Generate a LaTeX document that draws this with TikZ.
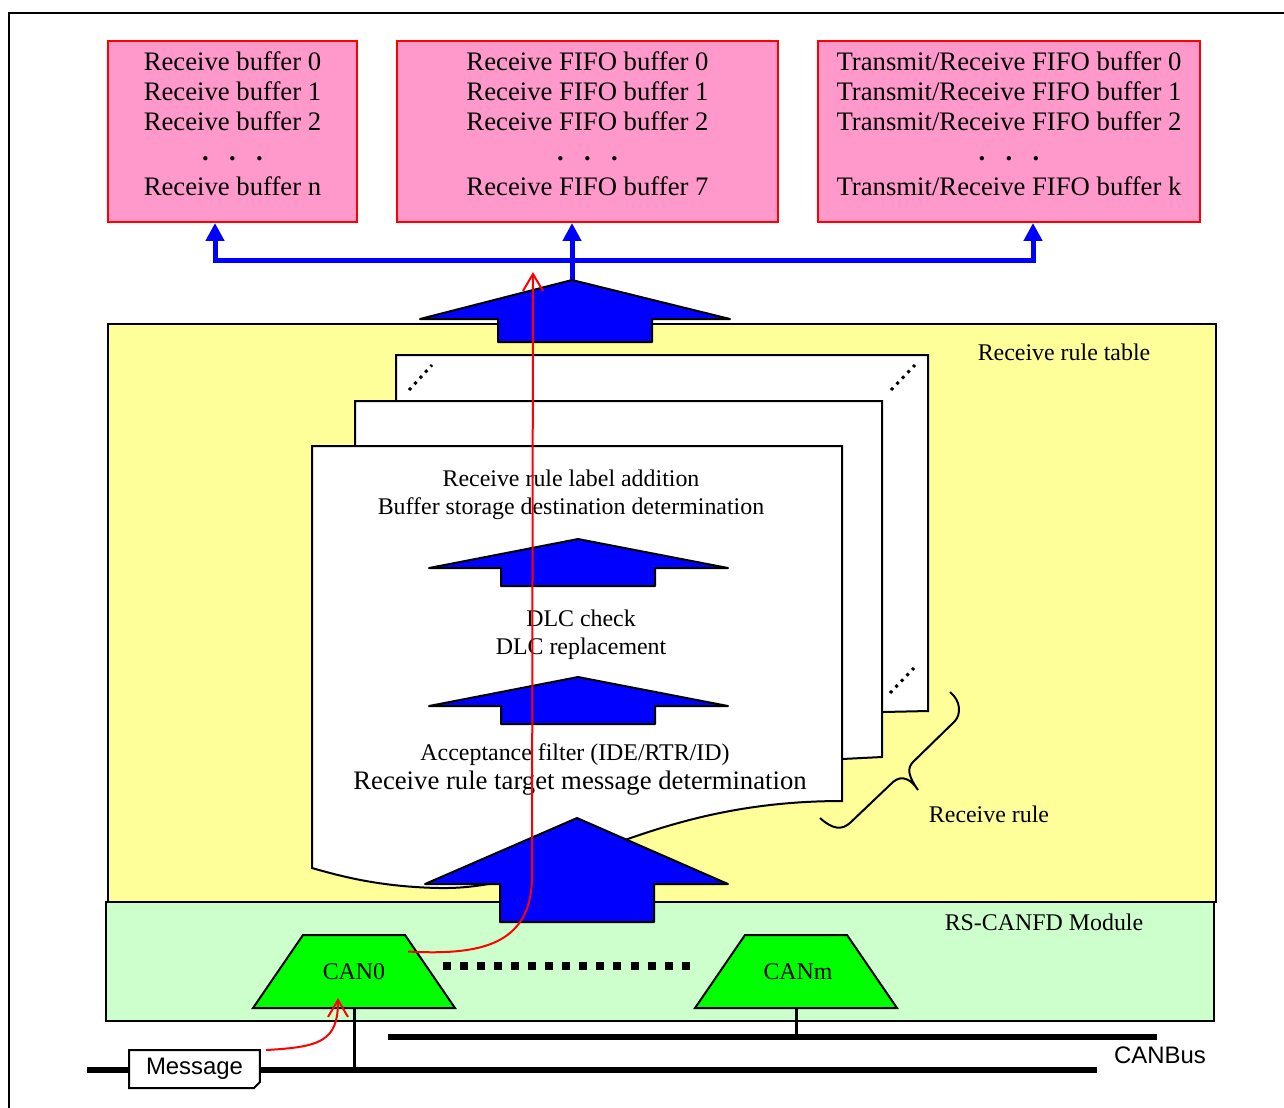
\documentclass[tikz,border=0pt]{standalone}
\usepackage{fontspec}
\setmainfont{Liberation Serif}
\setsansfont{Liberation Sans}
\usetikzlibrary{arrows.meta,shapes.geometric,shapes.misc,positioning,calc}
\definecolor{bufpink}{HTML}{FF99CC}
\definecolor{tableyellow}{HTML}{FFFF99}
\definecolor{modulegreen}{HTML}{CCFFCC}
\definecolor{cangreen}{HTML}{00FF00}
\newcommand{\bufsize}{\fontsize{15.2}{17.1}\selectfont}
\newcommand{\rulesize}{\fontsize{13.6}{15.9}\selectfont}
\newcommand{\bufdots}{{\bfseries .\hspace{11.6pt}.\hspace{11.6pt}.}}
\tikzset{frame/.style={
            draw,
            line width=0.04cm
        },
        bufbox/.style={
            draw=red,
            fill=bufpink,
            line width=0.04cm,
            minimum height=3.62cm
        },
        buftext/.style={
            align=center,
            inner sep=0pt,
            font=\bufsize
        },
        ruletext/.style={
            align=center,
            inner sep=0pt,
            font=\rulesize
        },
        busline/.style={
            draw=blue,
            line width=0.1cm
        },
        flowarrow/.style={
            draw=black,
            fill=blue,
            line width=0.04cm,
            line join=round
        },
        tablebox/.style={
            draw,
            fill=tableyellow,
            line width=0.04cm
        },
        modulebox/.style={
            draw,
            fill=modulegreen,
            line width=0.04cm
        },
        page/.style={
            draw,
            fill=white,
            line width=0.04cm
        },
        pagedots/.style={
            line width=0.06cm,
            dash pattern=on 0.06cm off 0.1cm
        },
        rulebrace/.style={
            line width=0.04cm
        },
        canshape/.style={
            trapezium,
            trapezium angle=55.6,
            draw,
            fill=cangreen,
            line width=0.04cm,
            text width=1.3cm,
            align=center,
            text height=0.33cm,
            text depth=0cm,
            inner xsep=0.37cm,
            inner ysep=0.565cm,
            font=\rulesize
        },
        candots/.style={
            line width=0.16cm,
            dash pattern=on 0.16cm off 0.181cm
        },
        bus/.style={
            line width=0.12cm
        },
        stem/.style={
            line width=0.06cm
        },
        msgbox/.style={
            chamfered rectangle,
            chamfered rectangle corners=south east,
            chamfered rectangle xsep=0.06cm,
            chamfered rectangle ysep=0.06cm,
            draw,
            fill=white,
            line width=0.04cm,
            minimum width=2.62cm,
            minimum height=0.76cm,
            inner sep=0pt,
            font=\sffamily\rulesize
        },
        redpath/.style={
            draw=red,
            line width=0.04cm,
            -{Straight Barb[length=0.34cm,width=0.4cm]}
        }
    }
\begin{document}
\begin{tikzpicture}[x=0.02cm,y=-0.02cm]
    \useasboundingbox (0,0) rectangle (1284,1107);
    \draw[frame] (9,1120) -- (9,13) -- (1300,13);

    % buffers
    \node[bufbox, minimum width=4.98cm] (rxbuf) at (232.5,131.5) {};
    \node[bufbox, minimum width=7.62cm] (fifobuf) at (587.5,131.5) {};
    \node[bufbox, minimum width=7.64cm] (trxbuf) at (1009,131.5) {};
    \node[buftext, below=0.23cm of rxbuf.north] (rxtext) {Receive buffer 0\\Receive buffer 1\\Receive buffer 2\\\bufdots\\[2.8pt]Receive buffer n};
    \node[buftext, below=0.23cm of fifobuf.north] (fifotext) {Receive FIFO buffer 0\\Receive FIFO buffer 1\\Receive FIFO buffer 2\\\bufdots\\[2.8pt]Receive FIFO buffer 7};
    \node[buftext, below=0.23cm of trxbuf.north] (trxtext) {Transmit/Receive FIFO buffer 0\\Transmit/Receive FIFO buffer 1\\Transmit/Receive FIFO buffer 2\\\bufdots\\[2.8pt]Transmit/Receive FIFO buffer k};

    \coordinate (busl) at (215,260);
    \coordinate (busr) at (1033,260);
    \coordinate (toptip) at (572,280);
    \draw[busline, {Triangle[length=0.36cm,width=0.36cm]}-{Triangle[length=0.36cm,width=0.36cm]}] (busl |- rxbuf.south) -- (busl) -- (busr) -- (busr |- trxbuf.south);
    \draw[busline, -{Triangle[length=0.36cm,width=0.36cm]}] (toptip) -- (toptip |- fifobuf.south);

    % receive rule table
    \filldraw[tablebox] (108,324) rectangle (1216,902);
    \node[ruletext] (tablelabel) at (1064,352) {Receive rule table};
    \filldraw[flowarrow] (toptip) -- (730,319) -- (652,319) -- (652,342) -- (498,342) -- (498,319) -- (420,319) -- cycle;

    \filldraw[page] (396,355) -- (928,355) -- (928,711) -- (883,712) -- (396,720) -- cycle;
    \filldraw[page] (355,401) -- (882,401) -- (882,757) -- (842,759) -- (355,770) -- cycle;
    \filldraw[page] (312,446) -- (842,446) -- (842,801) .. controls (640,801) and (560,890) .. (440,888) .. controls (380,887) and (340,876) .. (312,868) -- cycle;
    \draw[pagedots] (409,390) -- (432,365);
    \draw[pagedots] (891,390) -- (915,365);
    \draw[pagedots] (890,693) -- (914,668);

    \foreach \ty/\by in {539/586,677/724} {
        \filldraw[flowarrow] (578,\ty) -- (728,\ty+29) -- (655,\ty+29) -- (655,\by) -- (501,\by) -- (501,\ty+29) -- (429,\ty+29) -- cycle;
    }
    \node[ruletext] (labeladd) at (571,494.5) {Receive rule label addition\\Buffer storage destination determination};
    \node[ruletext] (dlc) at (581,634.5) {DLC check\\DLC replacement};
    \node[ruletext] (accept) at (575,754.5) {Acceptance filter (IDE/RTR/ID)};
    \node[buftext] (target) at (580,783) {Receive rule target message determination};

    \draw[rulebrace] (820,818) .. controls (832,829) and (842,831) .. (851,822) -- (893,782) .. controls (902,774) and (912,780) .. (918,790) .. controls (908,776) and (907,768) .. (913,762) -- (955,721) .. controls (961,714) and (961,701) .. (950,692);
    \node[ruletext] (rulelabel) at (989,814) {Receive rule};

    % module
    \filldraw[modulebox] (106,902) rectangle (1214,1021);
    \node[ruletext] (modlabel) at (1044,922) {RS-CANFD Module};
    \filldraw[flowarrow] (577,818) -- (728,884) -- (654,884) -- (654,922) -- (500,922) -- (500,884) -- (425,884) -- cycle;

    \node[canshape] (can0) at (354,971.5) {CAN0};
    \node[canshape] (canm) at (796,971.5) {CANm};
    \draw[candots] (443,966) -- (690,966);

    % bus
    \coordinate (lowbusl) at (87,1070);
    \coordinate (lowbusr) at (1097,1070);
    \coordinate (upbusl) at (388,1037);
    \coordinate (upbusr) at (1157,1037);
    \draw[bus] (lowbusl) -- (lowbusr);
    \draw[bus] (upbusl) -- (upbusr);
    \draw[stem] (can0.south) -- (can0.south |- lowbusl);
    \draw[stem] (canm.south) -- (canm.south |- upbusl);
    \node[font=\sffamily\rulesize, inner sep=0pt] (buslabel) at (1160,1055) {CANBus};
    \node[msgbox] (msg) at (194.5,1069) {Message};

    \coordinate (redtop) at (533,272);
    \draw[redpath] ($(msg.north east)+(5,1)$) .. controls +(55,-3) and +(0,43) .. ($(can0.south)+(-16,-11)$);
    \draw[redpath] ($(can0.center)+(54,-20)$) .. controls +(72,4) and +(-2,65) .. (532,880) -- (redtop);
\end{tikzpicture}
\end{document}
